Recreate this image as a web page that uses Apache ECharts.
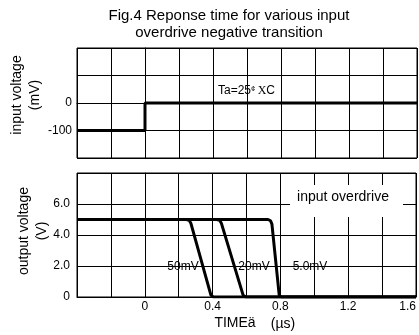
<!DOCTYPE html>
<html>
<head>
<meta charset="utf-8">
<script src="https://cdn.jsdelivr.net/npm/echarts@6/dist/echarts.min.js"></script>
<style>
  html, body { margin: 0; padding: 0; background: #fff; }
  #chart { width: 419px; height: 335px; }
</style>
</head>
<body>
<div id="chart"></div>
<script>
// input step (mV)
var inTime = [-0.4, 0, 0, 1.6];
var inVolt = [-100, -100, 0, 0];

// output responses (V) for each overdrive
var t50 = [-0.4, 0.245, 0.262, 0.272, 0.39, 0.397, 0.405, 1.6];
var v50 = [5, 5, 4.95, 4.75, 0.12, 0.02, 0, 0];
var t20 = [-0.4, 0.425, 0.442, 0.452, 0.58, 0.587, 0.595, 1.6];
var v20 = [5, 5, 4.95, 4.75, 0.12, 0.02, 0, 0];
var t5 = [-0.4, 0.727, 0.742, 0.75, 0.793, 0.797, 0.805, 1.6];
var v5 = [5, 5, 4.92, 4.7, 0.12, 0.02, 0, 0];

var xTickLabels = ['0', '0.4', '0.8', '1.2', '1.6'];
var inTickLabels = ['0', '-100'];
var outTickLabels = ['0', '2.0', '4.0', '6.0'];

function pairs(xs, ys) {
    return xs.map(function (x, i) { return [x, ys[i]]; });
}

var FONT = '"Liberation Sans", Arial, sans-serif';
var chart = echarts.init(document.getElementById('chart'));

var baseX = {
    type: 'value',
    min: -0.4,
    max: 1.6,
    interval: 0.2,
    axisLine: { show: true, lineStyle: { color: '#000', width: 1 } },
    axisTick: { show: false },
    splitLine: { show: true, lineStyle: { color: '#000', width: 1 } }
};

function txt(x, y, text, size, extra) {
    return Object.assign({
        type: 'text', x: x, y: y, z: 10,
        style: { text: text, fill: '#000', font: size + 'px ' + FONT, align: 'center', verticalAlign: 'middle' }
    }, extra || {});
}

var option = {
    animation: false,
    grid: [
        { left: 77, right: 2, top: 48, height: 110, show: true, borderColor: '#000', borderWidth: 1 },
        { left: 77, right: 2, top: 173, height: 124, show: true, borderColor: '#000', borderWidth: 1 }
    ],
    xAxis: [
        Object.assign({}, baseX, { gridIndex: 0, axisLabel: { show: false } }),
        Object.assign({}, baseX, {
            gridIndex: 1,
            axisLabel: {
                show: true,
                color: '#000',
                fontFamily: FONT,
                fontSize: 12,
                margin: 4,
                alignMaxLabel: 'right',
                formatter: function (v) {
                    var r = Math.round(v * 10) / 10;
                    var s = r === 0 ? '0' : r.toFixed(1);
                    return xTickLabels.indexOf(s) >= 0 ? s : '';
                }
            }
        })
    ],
    yAxis: [
        {
            type: 'value', gridIndex: 0, min: -200, max: 200, interval: 100,
            axisLine: { show: true, lineStyle: { color: '#000' } },
            axisTick: { show: false },
            splitLine: { show: true, lineStyle: { color: '#000', width: 1 } },
            axisLabel: {
                color: '#000', fontFamily: FONT, fontSize: 12, margin: 5,
                formatter: function (v) {
                    var s = String(Math.round(v));
                    return inTickLabels.indexOf(s) >= 0 ? s : '';
                }
            }
        },
        {
            type: 'value', gridIndex: 1, min: 0, max: 8, interval: 2,
            axisLine: { show: true, lineStyle: { color: '#000' } },
            axisTick: { show: false },
            splitLine: { show: true, lineStyle: { color: '#000', width: 1 } },
            axisLabel: {
                color: '#000', fontFamily: FONT, fontSize: 12, margin: 7,
                formatter: function (v) {
                    var s = v === 0 ? '0' : v.toFixed(1);
                    return outTickLabels.indexOf(s) >= 0 ? s : '';
                }
            }
        }
    ],
    series: [
        {
            type: 'line', xAxisIndex: 0, yAxisIndex: 0, data: pairs(inTime, inVolt),
            showSymbol: false, lineStyle: { color: '#000', width: 3 }
        },
        {
            type: 'line', xAxisIndex: 1, yAxisIndex: 1, data: pairs(t50, v50),
            showSymbol: false, lineStyle: { color: '#000', width: 3 }
        },
        {
            type: 'line', xAxisIndex: 1, yAxisIndex: 1, data: pairs(t20, v20),
            showSymbol: false, lineStyle: { color: '#000', width: 3 }
        },
        {
            type: 'line', xAxisIndex: 1, yAxisIndex: 1, data: pairs(t5, v5),
            showSymbol: false, lineStyle: { color: '#000', width: 3 }
        }
    ],
    graphic: {
        elements: [
            // title
            txt(229, 16, 'Fig.4 Reponse time for various input', 15),
            txt(229, 33, 'overdrive negative transition', 15),
            // axis names
            txt(17, 95, 'input voltage', 14, { rotation: Math.PI / 2 }),
            txt(35, 95, '(mV)', 14, { rotation: Math.PI / 2 }),
            txt(24, 231, 'output voltage', 14, { rotation: Math.PI / 2 }),
            txt(42, 231, '(V)', 14, { rotation: Math.PI / 2 }),
            txt(235, 323, 'TIMEä', 14),
            txt(283, 324, '(µs)', 14),
            // annotations
            {
                type: 'text', x: 218, y: 91, z: 10,
                style: {
                    text: 'Ta=25{s|¢ }{x|X}C', fill: '#000', font: '12px ' + FONT, verticalAlign: 'middle',
                    rich: {
                        s: { fontSize: 8, fontFamily: FONT, verticalAlign: 'top', padding: [0, 0, 4, 0] },
                        x: { fontSize: 12, fontFamily: '"Liberation Serif", serif' }
                    }
                }
            },
            { type: 'rect', z: 5, shape: { x: 290, y: 185, width: 113, height: 32 }, style: { fill: '#fff' } },
            txt(343, 197, 'input overdrive', 14),
            txt(183, 267, '50mV', 12, { z: 1 }),
            txt(254, 267, '20mV', 12, { z: 1 }),
            txt(310, 267, '5.0mV', 12, { z: 1 })
        ]
    }
};

chart.setOption(option);
</script>
</body>
</html>
